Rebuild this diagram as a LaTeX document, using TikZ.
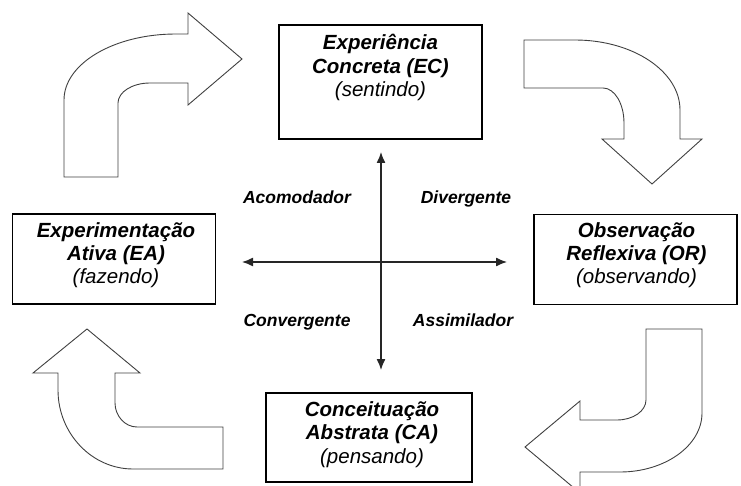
\documentclass[tikz,border=0pt]{standalone}
\usepackage{fontspec}
\setmainfont{Liberation Sans}
\usetikzlibrary{arrows.meta}
\newcommand\kbfont{\fontsize{20.5}{23.3}\selectfont}
\newcommand\kqfont{\fontsize{17.5}{20}\selectfont\bfseries\itshape}
\begin{document}
\begin{tikzpicture}[x=1pt,y=-1pt,
  stagebox/.style={draw=black,line width=1.6pt,fill=white,inner sep=0pt,minimum width=203pt,minimum height=90pt},
  stagetext/.style={font=\kbfont,align=center,inner sep=0pt,text=black},
  quadlabel/.style={font=\kqfont,inner sep=0pt,anchor=base,text=black},
  bentarrow/.style={draw=black!75,line width=0.9pt,fill=white,line join=miter},
  axis/.style={draw=black!85,line width=1.3pt,{Latex[length=11pt,width=9pt]}-{Latex[length=11pt,width=9pt]}}]
\useasboundingbox (0,0) rectangle (741,486);
\clip (0,0) rectangle (741,486);

% bent arrows
\path[bentarrow] (64,177) -- (64,100) .. controls (64,63.6) and (114,34) .. (176,34)
  -- (188,34) -- (188,13) -- (242,59) -- (188,105) -- (188,83) -- (150,83)
  .. controls (132.3,83) and (118,92) .. (118,103) -- (118,177) -- cycle;
\path[bentarrow] (524,40) -- (575,40) .. controls (633,40) and (680,71.4) .. (680,110)
  -- (680,139) -- (702,139) -- (652,184) -- (602,139) -- (624,139) -- (624,123)
  .. controls (624,103.7) and (614.6,88) .. (603,88) -- (524,88) -- cycle;
\path[bentarrow] (702,329) -- (646,329) -- (646,400) .. controls (646,411) and (633,420) .. (617,420)
  -- (580,420) -- (580,401) -- (525,447) -- (580,493) -- (580,472) -- (620,472)
  .. controls (665,472) and (702,445.6) .. (702,413) -- cycle;
\path[bentarrow] (87,329) -- (140,373) -- (115,373) -- (115,403)
  .. controls (115,416) and (125,427) .. (137,427) -- (223,427) -- (223,469) -- (133,469)
  .. controls (92,469) and (58,433.6) .. (58,390) -- (58,373) -- (33,373) -- cycle;

% boxes
\node[stagebox,minimum height=114pt] (EC) at (380.5,82) {};
\node[stagetext] (ECt) at (380.5,67.5) {\textbf{\textit{Experiência}}\\\textbf{\textit{Concreta (EC)}}\\\textit{(sentindo)}};
\node[stagebox] (EA) at (114,259) {};
\node[stagetext] (EAt) at (116,255) {\textbf{\textit{Experimentação}}\\\textbf{\textit{Ativa (EA)}}\\\textit{(fazendo)}};
\node[stagebox] (OR) at (635.5,259.5) {};
\node[stagetext] (ORt) at (636.5,255) {\textbf{\textit{Observação}}\\\textbf{\textit{Reflexiva (OR)}}\\\textit{(observando)}};
\node[stagebox,minimum width=206pt,minimum height=89pt] (CA) at (369,437.5) {};
\node[stagetext] (CAt) at (372,434.5) {\textbf{\textit{Conceituação}}\\\textbf{\textit{Abstrata (CA)}}\\\textit{(pensando)}};

% axes
\coordinate (axtop) at (381,152);
\coordinate (axbot) at (381,370);
\coordinate (axleft) at (242,262);
\coordinate (axright) at (507,262);
\draw[axis] (axtop) -- (axbot);
\draw[axis] (axleft) -- (axright);

% quadrant labels
\node[quadlabel] (acom) at (297,204) {Acomodador};
\node[quadlabel] (div) at (466,204) {Divergente};
\node[quadlabel] (conv) at (297,326) {Convergente};
\node[quadlabel] (assim) at (463,326) {Assimilador};
\end{tikzpicture}
\end{document}
